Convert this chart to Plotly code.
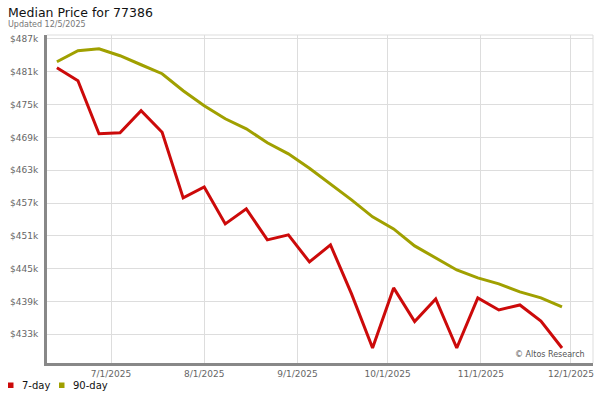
import plotly.graph_objects as go
import pandas as pd

# ---- data (values in $k) ----
dates = pd.date_range("2025-06-13", periods=25, freq="7D")
day7 = [481.75, 479.37, 469.66, 469.85, 473.88, 469.94, 457.94, 459.95, 453.19, 455.94,
        450.26, 451.18, 446.23, 449.35, 440.38, 430.49, 441.48, 435.34, 439.46, 430.49,
        439.65, 437.45, 438.36, 435.43, 430.49]
day90 = [482.84, 484.86, 485.22, 483.94, 482.29, 480.65, 477.54, 474.79, 472.41, 470.58,
         468.02, 466.00, 463.35, 460.51, 457.58, 454.47, 452.27, 449.16, 446.97, 444.77,
         443.31, 442.21, 440.75, 439.65, 438.00]
y_ticks = [433, 439, 445, 451, 457, 463, 469, 475, 481, 487]
y_labels = ["$%dk" % v for v in y_ticks]
x_ticks = ["2025-07-01", "2025-08-01", "2025-09-01", "2025-10-01", "2025-11-01", "2025-12-01"]
x_labels = ["7/1/2025", "8/1/2025", "9/1/2025", "10/1/2025", "11/1/2025", "12/1/2025"]

RED = "#cc0a0a"
GOLD = "#a0a000"
FONT = "DejaVu Sans"

fig = go.Figure()
fig.add_trace(go.Scatter(x=dates, y=day90, mode="lines", name="90-day",
                         line=dict(color=GOLD, width=3), showlegend=False))
fig.add_trace(go.Scatter(x=dates, y=day7, mode="lines", name="7-day",
                         line=dict(color=RED, width=3), showlegend=False))

L, R, T, B = 47, 7, 35, 37
W, H = 600, 400
pw, ph = W - L - R, H - T - B


def px(xp):
    return (xp - L) / pw


def py(yp):
    return (H - B - yp) / ph


fig.update_layout(
    width=W, height=H,
    margin=dict(l=L, r=R, t=T, b=B),
    paper_bgcolor="white", plot_bgcolor="white",
    font=dict(family=FONT, size=9, color="#666666"),
    xaxis=dict(
        range=["2025-06-09 17:00", "2025-12-08 07:40"],
        tickvals=x_ticks, ticktext=x_labels,
        showgrid=True, gridcolor="#dddddd", gridwidth=1,
        showline=True, linecolor="#888888", linewidth=3,
        ticks="", zeroline=False,
        tickfont=dict(family=FONT, size=9, color="#666666"),
    ),
    yaxis=dict(
        range=[427.75, 487.73],
        tickvals=y_ticks, ticktext=y_labels,
        showgrid=True, gridcolor="#dddddd", gridwidth=1,
        showline=True, linecolor="#888888", linewidth=3,
        ticks="", zeroline=False, ticklabelstandoff=4,
        tickfont=dict(family=FONT, size=9, color="#666666"),
    ),
    showlegend=False,
)

# top and right frame lines
fig.add_shape(type="line", xref="paper", yref="paper", x0=0, x1=1, y0=1, y1=1,
              line=dict(color="#dddddd", width=1))
fig.add_shape(type="line", xref="paper", yref="paper", x0=1, x1=1, y0=0, y1=1,
              line=dict(color="#dddddd", width=1))

# title and subtitle
fig.add_annotation(text="Median Price for 77386", xref="paper", yref="paper",
                   x=px(6), y=py(13), xanchor="left", yanchor="middle", showarrow=False,
                   font=dict(family=FONT, size=12.5, color="#111111"))
fig.add_annotation(text="Updated 12/5/2025", xref="paper", yref="paper",
                   x=px(6), y=py(25), xanchor="left", yanchor="middle", showarrow=False,
                   font=dict(family=FONT, size=8, color="#777777"))

# watermark
fig.add_annotation(text="© Altos Research", xref="paper", yref="paper",
                   x=px(587), y=py(354), xanchor="right", yanchor="middle", showarrow=False,
                   font=dict(family=FONT, size=8, color="#555555"))

# legend
for sx, tx, label, col in [(8, 20, "7-day", RED), (59, 71, "90-day", GOLD)]:
    fig.add_shape(type="rect", xref="paper", yref="paper",
                  x0=px(sx), x1=px(sx + 5.5), y0=py(388), y1=py(382.5),
                  fillcolor=col, line=dict(width=0))
    fig.add_annotation(text=label, xref="paper", yref="paper",
                       x=px(tx), y=py(385.5), xanchor="left", yanchor="middle", showarrow=False,
                       font=dict(family=FONT, size=10, color="#111111"))

fig.write_html("out.html", config={"displayModeBar": False},
               post_script="document.body.style.margin='0';")
